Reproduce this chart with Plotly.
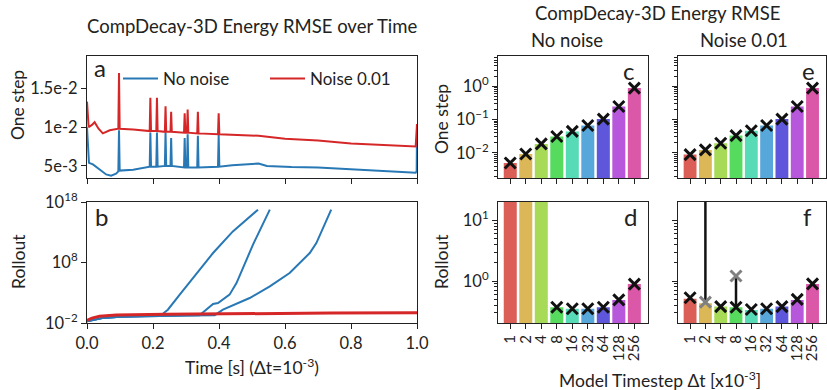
import plotly.graph_objects as go

W, H = 827, 390
FONT = "Lato"
TXT = "#222222"
BLUE = "#2878b5"
RED = "#d62728"

# ---------------- data: panel a (one-step energy RMSE over time) ----------------
a_blue_t = [0, 0.006, 0.018, 0.038, 0.058, 0.073, 0.088, 0.095, 0.097, 0.099, 0.14,
            0.19, 0.192, 0.194, 0.21, 0.212, 0.214, 0.236, 0.238, 0.240, 0.253, 0.255, 0.257,
            0.294, 0.296, 0.298, 0.303, 0.305, 0.307, 0.334, 0.336, 0.338, 0.397, 0.399, 0.401,
            0.44, 0.5, 0.52, 0.545, 0.62, 0.7, 0.8, 0.9, 0.996, 0.999, 1.0]
a_blue_v = [0.0100, 0.0054, 0.0052, 0.0046, 0.0039, 0.00375, 0.0040, 0.0043, 0.0096, 0.0044, 0.0045,
            0.0049, 0.0093, 0.0049, 0.0049, 0.0093, 0.0049, 0.0050, 0.0093, 0.0050, 0.0050, 0.0086, 0.0050,
            0.0048, 0.0086, 0.0048, 0.0048, 0.0091, 0.0048, 0.0048, 0.0089, 0.0048, 0.0049, 0.0090, 0.0049,
            0.0051, 0.0053, 0.0053, 0.0050, 0.00485, 0.0048, 0.00457, 0.00443, 0.00413, 0.0043, 0.0095]

a_red_t = [0, 0.005, 0.015, 0.023, 0.035, 0.048, 0.069, 0.09, 0.095, 0.097, 0.099, 0.14,
           0.19, 0.192, 0.194, 0.21, 0.212, 0.214, 0.236, 0.238, 0.240, 0.253, 0.255, 0.257,
           0.294, 0.296, 0.298, 0.303, 0.305, 0.307, 0.334, 0.336, 0.338, 0.397, 0.399, 0.401,
           0.5, 0.52, 0.6, 0.7, 0.8, 0.9, 0.996, 1.0]
a_red_v = [0.0133, 0.0100, 0.0103, 0.01065, 0.0098, 0.0092, 0.0096, 0.0098, 0.0098, 0.0170, 0.0098, 0.0097,
           0.0095, 0.0138, 0.0095, 0.0095, 0.0138, 0.0095, 0.0094, 0.0127, 0.0094, 0.0094, 0.0120, 0.0094,
           0.0093, 0.0118, 0.0093, 0.0093, 0.0123, 0.0093, 0.0092, 0.0120, 0.0092, 0.0091, 0.0118, 0.0091,
           0.0090, 0.0089, 0.0085, 0.0083, 0.0079, 0.0077, 0.0075, 0.0104]

# ---------------- data: panel b (rollout energy RMSE over time) ----------------
b_blue1_t = [0, 0.05, 0.1, 0.2, 0.23, 0.245, 0.281, 0.382, 0.442, 0.518]
b_blue1_v = [0.019, 0.07, 0.11, 0.16, 0.35, 1.6, 4.8e2, 3.7e9, 1.4e13, 5.4e16]
b_blue2_t = [0, 0.05, 0.1, 0.2, 0.3, 0.341, 0.36, 0.382, 0.397, 0.412, 0.432, 0.453, 0.503, 0.554]
b_blue2_v = [0.019, 0.07, 0.11, 0.16, 0.18, 0.19, 1.2, 14, 20, 72, 480, 4e4, 8.9e10, 5.4e16]
b_blue3_t = [0, 0.05, 0.1, 0.2, 0.3, 0.387, 0.412, 0.493, 0.554, 0.614, 0.675, 0.695, 0.74]
b_blue3_v = [0.019, 0.07, 0.11, 0.16, 0.18, 0.2, 1.6, 135, 1.1e4, 1.8e6, 3.7e9, 1.6e11, 5.4e16]
b_red_t = [0, 0.015, 0.038, 0.089, 0.24, 0.44, 0.74, 1.0]
b_red_v = [0.0275, 0.063, 0.126, 0.21, 0.27, 0.35, 0.45, 0.51]

# ---------------- data: bar panels ----------------
steps = ["1", "2", "4", "8", "16", "32", "64", "128", "256"]
bar_colors = ["#db5f57", "#dbb757", "#a7db57", "#57db5f", "#57dbb7",
              "#57a7db", "#5f57db", "#b757db", "#db57a7"]

c_bar = [0.005, 0.0093, 0.0186, 0.031, 0.044, 0.066, 0.103, 0.245, 0.87]
c_mark = [0.005, 0.0093, 0.0186, 0.031, 0.044, 0.066, 0.103, 0.245, 0.87]
e_bar = [0.0089, 0.0123, 0.0195, 0.033, 0.046, 0.066, 0.103, 0.245, 0.87]
e_mark = [0.0089, 0.0123, 0.0195, 0.033, 0.046, 0.066, 0.103, 0.245, 0.87]
d_bar = [1e17, 1e17, 1e17, 0.37, 0.35, 0.35, 0.37, 0.49, 0.89]
d_mark = [1e17, 1e17, 1e17, 0.37, 0.35, 0.35, 0.37, 0.49, 0.89]
f_bar = [0.51, 0.43, 0.38, 0.37, 0.335, 0.35, 0.38, 0.49, 0.89]
f_mark = [0.53, 1e16, 0.38, 0.37, 0.34, 0.35, 0.38, 0.50, 0.90]
f_alt = [None, 0.45, None, 1.21, None, None, None, None, None]


def px_x(a, b):
    return [a / W, b / W]


def px_y(top, bottom):
    return [1 - bottom / H, 1 - top / H]


fig = go.Figure()

# panel a
fig.add_trace(go.Scatter(x=a_blue_t, y=a_blue_v, mode="lines", name="No noise",
                         line=dict(color=BLUE, width=2), xaxis="x", yaxis="y"))
fig.add_trace(go.Scatter(x=a_red_t, y=a_red_v, mode="lines", name="Noise 0.01",
                         line=dict(color=RED, width=2), xaxis="x", yaxis="y"))
# panel b
for tt, vv in [(b_blue1_t, b_blue1_v), (b_blue2_t, b_blue2_v), (b_blue3_t, b_blue3_v)]:
    fig.add_trace(go.Scatter(x=tt, y=vv, mode="lines", showlegend=False,
                             line=dict(color=BLUE, width=2), xaxis="x2", yaxis="y2"))
fig.add_trace(go.Scatter(x=b_red_t, y=b_red_v, mode="lines", showlegend=False,
                         line=dict(color=RED, width=3), xaxis="x2", yaxis="y2"))

# bar panels
panels = [("x3", "y3", c_bar, c_mark), ("x4", "y4", d_bar, d_mark),
          ("x5", "y5", e_bar, e_mark), ("x6", "y6", f_bar, f_mark)]
for xa, ya, bars, marks in panels:
    fig.add_trace(go.Bar(x=steps, y=bars, marker=dict(color=bar_colors, line=dict(width=0)),
                         showlegend=False, xaxis=xa, yaxis=ya))

# vertical range lines in f
lx, ly = [], []
for s, m, a in zip(steps, f_mark, f_alt):
    if a is not None:
        lx += [s, s, None]
        ly += [m, a, None]
fig.add_trace(go.Scatter(x=lx, y=ly, mode="lines", line=dict(color="#111111", width=2.5),
                         showlegend=False, xaxis="x6", yaxis="y6"))
fig.add_trace(go.Scatter(x=steps, y=f_alt, mode="markers", showlegend=False,
                         marker=dict(symbol="x-thin", size=11, line=dict(width=3, color="#808080")),
                         xaxis="x6", yaxis="y6"))
for xa, ya, bars, marks in panels:
    fig.add_trace(go.Scatter(x=steps, y=marks, mode="markers", showlegend=False,
                             marker=dict(symbol="x-thin", size=11, line=dict(width=3, color="#111111")),
                             xaxis=xa, yaxis=ya))

TICKFONT = dict(family=FONT, size=16.5, color=TXT)
common = dict(showline=True, mirror=True, linecolor=TXT, linewidth=1.2, ticks="outside",
              ticklen=5, tickwidth=1.2, tickcolor=TXT, showgrid=False, zeroline=False,
              automargin=False)

minor_vals = [m * 10 ** k for k in range(-4, 3) for m in range(2, 10)]
minor = dict(ticks="outside", ticklen=3, tickwidth=1, tickcolor=TXT, tickvals=minor_vals, showgrid=False)

t_ticks = [0, 0.2, 0.4, 0.6, 0.8, 1.0]
t_text = ["0.0", "0.2", "0.4", "0.6", "0.8", "1.0"]

lx_dom = px_x(87, 417)
cx_dom = px_x(498, 648)
ex_dom = px_x(678, 826)
top_dom = px_y(56, 178)
bot_dom = px_y(202, 323)

cat_common = dict(type="category", range=[-0.79, 8.88], tickmode="array",
                  tickvals=steps, ticktext=steps)
rot_font = dict(family=FONT, size=15, color=TXT)

fig.update_layout(
    width=W, height=H, margin=dict(l=0, r=0, t=0, b=0, pad=0, autoexpand=False),
    paper_bgcolor="white", plot_bgcolor="white",
    font=dict(family=FONT, size=16, color=TXT),
    bargap=0.16,
    xaxis=dict(domain=lx_dom, anchor="y", range=[0, 1], tickvals=t_ticks, showticklabels=False, **common),
    yaxis=dict(domain=top_dom, anchor="x", range=[0.00344, 0.0192], tickfont=TICKFONT,
               tickvals=[0.005, 0.01, 0.015], ticktext=["5e-3", "1e-2", "1.5e-2"], **common),
    xaxis2=dict(domain=lx_dom, anchor="y2", range=[0, 1], tickvals=t_ticks, ticktext=t_text,
                tickfont=TICKFONT, **common),
    yaxis2=dict(domain=bot_dom, anchor="x2", type="log", range=[-2, 18], tickfont=TICKFONT,
                tickvals=[1e-2, 1e8, 1e18],
                ticktext=["10<sup>−2</sup>", "10<sup>8</sup>", "10<sup>18</sup>"], **common),
    xaxis3=dict(domain=cx_dom, anchor="y3", showticklabels=False, **cat_common, **common),
    yaxis3=dict(domain=top_dom, anchor="x3", type="log", range=[-2.75, 0.9], tickfont=TICKFONT,
                tickvals=[1e-2, 1e-1, 1], ticktext=["10<sup>−2</sup>", "10<sup>−1</sup>", "10<sup>0</sup>"],
                minor=minor, **common),
    xaxis4=dict(domain=cx_dom, anchor="y4", tickangle=-90, tickfont=rot_font, **cat_common, **common),
    yaxis4=dict(domain=bot_dom, anchor="x4", type="log", range=[-0.69, 1.3], tickfont=TICKFONT,
                tickvals=[1, 10], ticktext=["10<sup>0</sup>", "10<sup>1</sup>"],
                minor=minor, **common),
    xaxis5=dict(domain=ex_dom, anchor="y5", showticklabels=False, **cat_common, **common),
    yaxis5=dict(domain=top_dom, anchor="x5", type="log", range=[-2.75, 0.9],
                tickvals=[1e-2, 1e-1, 1], showticklabels=False, minor=minor, **common),
    xaxis6=dict(domain=ex_dom, anchor="y6", tickangle=-90, tickfont=rot_font, **cat_common, **common),
    yaxis6=dict(domain=bot_dom, anchor="x6", type="log", range=[-0.69, 1.3],
                tickvals=[1, 10], showticklabels=False, minor=minor, **common),
    legend=dict(orientation="h", x=118 / W, y=1 - 79 / H, xanchor="left", yanchor="middle",
                bgcolor="rgba(0,0,0,0)", font=dict(family=FONT, size=17, color=TXT),
                entrywidth=97, entrywidthmode="pixels", itemwidth=35),
)


def ann(text, x, y, size=16, angle=0, xanchor="center"):
    fig.add_annotation(text=text, x=x / W, y=1 - y / H, xref="paper", yref="paper",
                       showarrow=False, textangle=angle, xanchor=xanchor, yanchor="middle",
                       font=dict(family=FONT, size=size, color=TXT))


ann("CompDecay-3D Energy RMSE over Time", 252, 26, size=18.5)
ann("CompDecay-3D Energy RMSE", 657, 13, size=18.5)
ann("No noise", 567, 40, size=18.5)
ann("Noise 0.01", 744, 40, size=18.5)
ann("One step", 18, 105, size=17.5, angle=-90)
ann("Rollout", 18, 262, size=17.5, angle=-90)
ann("One step", 441, 119, size=17.5, angle=-90)
ann("Rollout", 441, 262, size=17.5, angle=-90)
ann("Time [s] (Δt=10<sup>-3</sup>)", 252, 366, size=17.5)
ann("Model Timestep Δt [x10<sup>-3</sup>]", 660, 379, size=17.5)
ann("a", 100, 67, size=24)
ann("b", 101, 216, size=24)
ann("c", 628, 70, size=24)
ann("d", 630, 216, size=24)
ann("e", 808, 70, size=24)
ann("f", 807, 216, size=24)

fig.write_html("out.html")
